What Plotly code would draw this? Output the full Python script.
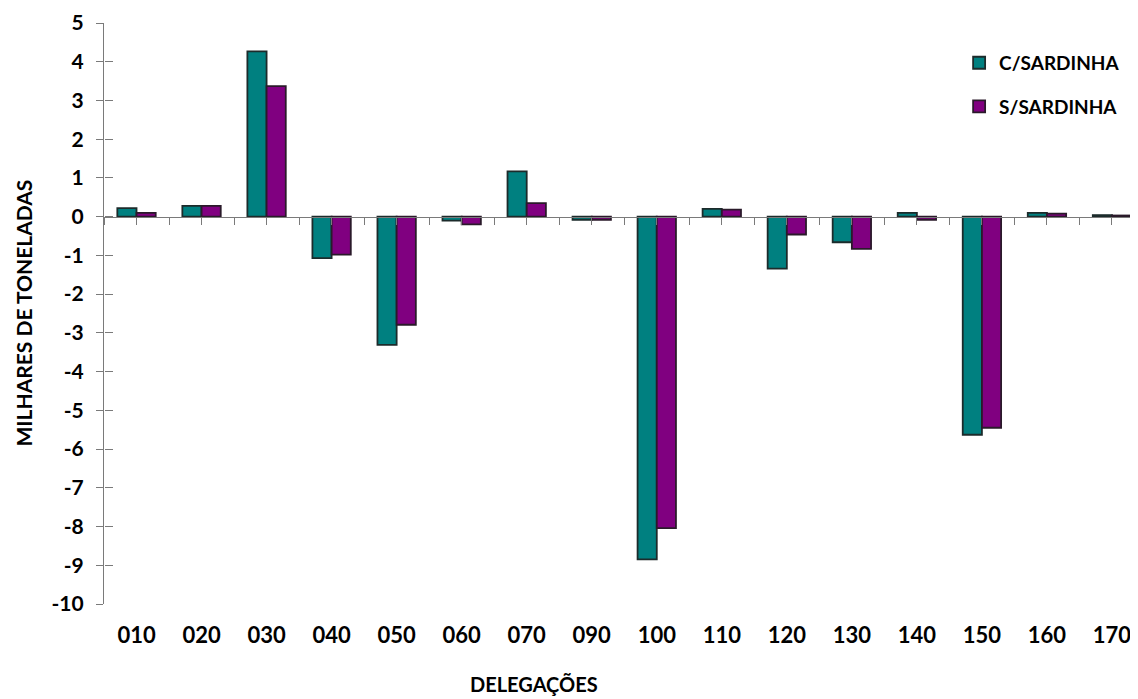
import plotly.graph_objects as go

delegacoes = ["010", "020", "030", "040", "050", "060", "070", "090",
              "100", "110", "120", "130", "140", "150", "160", "170"]
c_sardinha = [0.22, 0.28, 4.27, -1.07, -3.31, -0.10, 1.17, -0.08,
              -8.85, 0.20, -1.34, -0.66, 0.10, -5.63, 0.10, 0.04]
s_sardinha = [0.10, 0.28, 3.37, -0.98, -2.79, -0.20, 0.35, -0.08,
              -8.04, 0.18, -0.46, -0.83, -0.08, -5.45, 0.08, 0.03]
y_ticks = list(range(-10, 6))
y_ticktext = [str(v) for v in y_ticks]  # plain hyphen, not unicode minus

AXIS_COLOR = "#7a7a7a"
FONT = "Lato"
x_range = [-0.5, 15.4]

# the page body has an 8px margin, so the figure is a bit smaller than the window
fig = go.Figure()
fig.add_trace(
    go.Bar(
        x=delegacoes,
        y=c_sardinha,
        name="C/SARDINHA",
        legendgroup="c",
        marker=dict(color="#008080", line=dict(color="#1c2b2b", width=1.8)),
    )
)
fig.add_trace(
    go.Bar(
        x=delegacoes,
        y=s_sardinha,
        name="S/SARDINHA",
        legendgroup="s",
        marker=dict(color="#800080", line=dict(color="#2a1a2a", width=1.8)),
    )
)
# invisible trace to carry the zero-line axis with half-category ticks
fig.add_trace(
    go.Scatter(
        x=[0], y=[0], xaxis="x2", yaxis="y2",
        mode="markers", marker=dict(opacity=0), showlegend=False, hoverinfo="skip",
    )
)

fig.update_layout(
    width=1130,
    height=691,
    margin=dict(l=96, r=0, t=15, b=95),
    paper_bgcolor="white",
    plot_bgcolor="white",
    font=dict(family=FONT, color="black"),
    barmode="group",
    bargap=0.41,
    bargroupgap=0,
    xaxis=dict(
        range=x_range,
        automargin=False,
        showgrid=False,
        showline=False,
        zeroline=False,
        ticks="",
        tickfont=dict(size=22, family=FONT, weight="bold"),
        ticklabelstandoff=16,
    ),
    xaxis2=dict(
        overlaying="x",
        anchor="free",
        position=2 / 3,
        range=x_range,
        automargin=False,
        showgrid=False,
        zeroline=False,
        showline=True,
        linecolor=AXIS_COLOR,
        linewidth=1.3,
        ticks="outside",
        ticklen=7,
        tickcolor=AXIS_COLOR,
        tick0=0,
        dtick=0.5,
        showticklabels=False,
    ),
    yaxis=dict(
        range=[-10, 5],
        automargin=False,
        tickvals=y_ticks,
        ticktext=y_ticktext,
        showgrid=False,
        zeroline=False,
        showline=True,
        linecolor=AXIS_COLOR,
        linewidth=1.3,
        ticks="outside",
        ticklen=7,
        tickcolor=AXIS_COLOR,
        tickfont=dict(size=21, family=FONT, weight="bold"),
        ticklabelstandoff=8,
    ),
    yaxis2=dict(
        overlaying="y",
        anchor="free",
        position=0,
        range=[-10, 5],
        automargin=False,
        tickvals=y_ticks,
        showgrid=False,
        zeroline=False,
        showline=False,
        ticks="inside",
        ticklen=8,
        tickcolor=AXIS_COLOR,
        showticklabels=False,
    ),
    legend=dict(
        x=0.827,
        y=0.964,
        xanchor="left",
        yanchor="top",
        bgcolor="rgba(0,0,0,0)",
        font=dict(size=19, family=FONT, weight="bold"),
        traceorder="grouped",
        tracegroupgap=16,
        itemwidth=30,
    ),
    showlegend=True,
)

# axis titles as annotations so they sit where the reference puts them
fig.add_annotation(
    text="MILHARES DE TONELADAS",
    xref="paper",
    yref="paper",
    x=(23 - 104) / 1034,
    y=0.5,
    xanchor="center",
    yanchor="middle",
    textangle=-90,
    showarrow=False,
    font=dict(size=21, family=FONT, weight="bold"),
)
fig.add_annotation(
    text="DELEGAÇÕES",
    xref="paper",
    yref="paper",
    x=(534 - 104) / 1034,
    y=-(684 - 604) / 581,
    yanchor="middle",
    showarrow=False,
    font=dict(size=20, family=FONT, weight="bold"),
)

fig.write_html("out.html")
